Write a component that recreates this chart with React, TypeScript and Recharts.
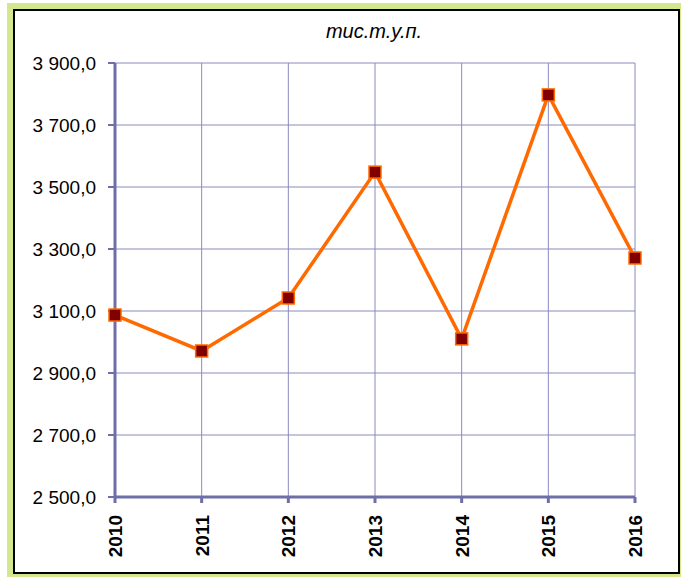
import React from 'react';
import { CartesianGrid, Line, LineChart, XAxis, YAxis } from 'recharts';

const years = ['2010', '2011', '2012', '2013', '2014', '2015', '2016'];
const values = [3087, 2971, 3142, 3548, 3010, 3797, 3271];
const yTicks = [2500, 2700, 2900, 3100, 3300, 3500, 3700, 3900];
const unitTitle = 'тис.т.у.п.';

const data = years.map((year, i) => ({ year, value: values[i] }));

const axisColor = '#6e6ea8';
const gridColor = '#8a8abd';
const font = '"Liberation Sans", Arial, sans-serif';

// 3 900,0 style labels
const formatTick = (v: number) => {
  const [int, dec] = v.toFixed(1).split('.');
  return `${int.replace(/\B(?=(\d{3})+(?!\d))/g, ' ')},${dec}`;
};

// rotated bold year labels under the axis
const YearTick = ({ x, y, payload }: { x?: number; y?: number; payload?: { value: string } }) => (
  <text
    transform={`translate(${(x ?? 0) + 7},${(y ?? 0) + 10}) rotate(-90)`}
    textAnchor="end"
    fontFamily={font}
    fontSize={19}
    fontWeight="bold"
    fill="#000"
  >
    {payload?.value}
  </text>
);

// dark red square with orange edge
const SquareDot = ({ cx, cy }: { cx?: number; cy?: number }) => {
  if (cx == null || cy == null) return null;
  return (
    <rect x={cx - 6} y={cy - 6} width={12} height={12} fill="#800000" stroke="#ff6a00" strokeWidth={1.5} />
  );
};

const App: React.FC = () => {
  return (
    <div style={{ position: 'absolute', left: 0, top: 0, width: 681, height: 577, background: '#fff' }}>
      <div style={{ position: 'absolute', left: 7, top: 3, width: 674, height: 574, background: '#d3e78c' }} />
      <div
        style={{
          position: 'absolute',
          left: 13,
          top: 9,
          width: 663,
          height: 561,
          background: '#fff',
          border: '2px solid #000',
        }}
      />
      <div
        style={{
          position: 'absolute',
          left: 0,
          top: 20,
          width: 748,
          textAlign: 'center',
          fontFamily: font,
          fontStyle: 'italic',
          fontSize: 20,
          color: '#000',
        }}
      >
        {unitTitle}
      </div>
      <div style={{ position: 'absolute', left: 0, top: 0 }}>
        <LineChart width={681} height={577} data={data} margin={{ top: 63, right: 46, bottom: 10, left: 15 }}>
          <CartesianGrid stroke={gridColor} strokeWidth={1} />
          <XAxis
            dataKey="year"
            scale="point"
            padding={{ left: 0, right: 0 }}
            height={70}
            tick={<YearTick />}
            tickSize={6}
            tickMargin={2}
            axisLine={{ stroke: axisColor, strokeWidth: 3 }}
            tickLine={{ stroke: axisColor, strokeWidth: 3 }}
            interval={0}
          />
          <YAxis
            width={100}
            domain={[2500, 3900]}
            ticks={yTicks}
            tickFormatter={formatTick}
            tickSize={7}
            tickMargin={12}
            axisLine={{ stroke: axisColor, strokeWidth: 3 }}
            tickLine={{ stroke: axisColor, strokeWidth: 2 }}
            tick={{ fill: '#000', fontSize: 19, fontFamily: font }}
            allowDataOverflow
          />
          <Line
            type="linear"
            dataKey="value"
            stroke="#ff6a00"
            strokeWidth={3.5}
            dot={<SquareDot />}
            activeDot={false}
            isAnimationActive={false}
          />
        </LineChart>
      </div>
    </div>
  );
};

export default App;
